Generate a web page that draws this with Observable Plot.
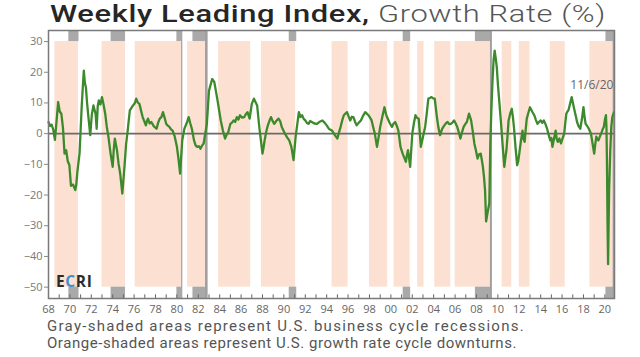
<!DOCTYPE html>
<html>
<head>
<meta charset="utf-8">
<script src="https://cdn.jsdelivr.net/npm/d3@7"></script>
<script src="https://cdn.jsdelivr.net/npm/@observablehq/plot@0.6"></script>
<style>
  html, body { margin: 0; padding: 0; background: #fff; width: 640px; height: 357px; overflow: hidden; position: relative; }
  #title { position: absolute; left: 50px; top: 0px; font-family: Roboto, sans-serif; font-size: 24px; line-height: 28px; white-space: nowrap; color: #222; letter-spacing: 0.5px; transform-origin: 0 0; }
  #title .a { font-weight: 500; color: #262626; }
  #title .b { font-weight: 300; color: #555; }
  #spacer { height: 29px; }
  #caption { position: absolute; left: 47px; top: 318px; font-family: Roboto, sans-serif; font-size: 15px; line-height: 17px; color: #555; white-space: nowrap; }
  #caption div { display: inline-block; }
  svg { display: block; }
</style>
</head>
<body>
<div id="title"><span class="a">Weekly Leading Index,</span> <span class="b">Growth Rate (%)</span></div>
<div id="spacer"></div>
<div id="chart"></div>
<div id="caption"><div id="c1">Gray-shaded areas represent U.S. business cycle recessions.</div><br><div id="c2">Orange-shaded areas represent U.S. growth rate cycle downturns.</div></div>
<script>
// Weekly Leading Index growth rate (%)
const wliDates = [
  1968.0,1968.15,1968.3,1968.45,1968.6,1968.75,1968.9,1969.05,1969.2,1969.35,1969.5,1969.65,1969.8,1969.95,1970.1,1970.3,1970.5,1970.6,1970.7,1970.9,
  1971.1,1971.2,1971.3,1971.4,1971.5,1971.6,1971.7,1971.9,
  1972.05,1972.2,1972.3,1972.4,1972.5,1972.6,1972.7,1972.85,1973.0,1973.15,1973.3,1973.45,1973.6,1973.8,1974.0,1974.1,1974.2,1974.4,1974.55,1974.7,1974.9,1975.1,1975.25,1975.4,1975.6,1975.9,
  1976.05,1976.2,1976.35,1976.5,1976.65,1976.8,1977.1,1977.2,1977.3,1977.45,1977.6,1977.85,1978.1,1978.25,1978.4,1978.55,1978.7,1978.85,1979.0,1979.15,1979.3,1979.45,1979.6,1979.8,1980.0,1980.15,1980.3,1980.5,1980.7,
  1980.9,1981.1,1981.25,1981.4,1981.6,1981.75,1981.9,1982.05,1982.2,1982.35,1982.5,1982.8,1983.0,1983.3,1983.5,1983.8,1984.1,1984.3,1984.5,1984.65,1984.8,1985.0,1985.15,1985.3,
  1985.45,1985.6,1985.75,1985.9,1986.1,1986.3,1986.45,1986.6,1986.8,1987.0,1987.2,1987.5,1987.7,1988.0,1988.1,1988.2,1988.35,1988.5,1988.65,1988.8,1988.95,1989.1,1989.3,1989.5,1989.65,1989.8,1990.1,
  1990.3,1990.5,1990.7,1990.9,1991.1,1991.4,1991.55,1991.7,1991.85,1992.0,1992.15,1992.3,1992.45,1992.6,1992.85,1993.1,1993.35,1993.6,1993.8,1994.0,1994.2,1994.35,1994.5,1994.75,1995.0,1995.15,1995.3,1995.45,1995.6,
  1995.75,1995.9,1996.05,1996.2,1996.35,1996.5,1996.65,1996.8,1997.0,1997.2,1997.4,1997.6,1997.75,1997.9,1998.05,1998.2,1998.35,1998.5,1998.7,1998.85,1999.0,1999.2,1999.4,1999.55,1999.7,1999.9,2000.1,2000.25,2000.4,2000.55,2000.7,2000.9,
  2001.1,2001.25,2001.4,2001.5,2001.6,2001.7,2001.8,2002.0,2002.15,2002.3,2002.45,2002.6,2002.8,2003.0,2003.2,2003.35,2003.5,2003.65,2003.8,2003.95,2004.1,2004.3,2004.45,2004.6,2004.8,2005.0,2005.15,2005.3,
  2005.45,2005.6,2005.75,2005.9,2006.05,2006.2,2006.35,2006.5,2006.65,2006.8,2006.95,2007.1,2007.3,2007.5,2007.65,2007.8,2007.95,2008.1,2008.25,2008.4,2008.5,2008.6,2008.7,2008.8,2008.9,2009.05,2009.2,2009.3,2009.4,2009.5,
  2009.6,2009.7,2009.8,2009.9,2010.0,2010.1,2010.2,2010.3,2010.45,2010.6,2010.7,2010.8,2010.9,2011.0,2011.15,2011.3,2011.4,2011.5,2011.65,2011.8,2011.9,2012.0,2012.15,2012.3,2012.4,2012.5,2012.6,2012.7,2012.85,2013.0,2013.2,2013.4,2013.55,2013.7,
  2013.85,2014.0,2014.15,2014.3,2014.45,2014.6,2014.75,2014.9,2015.0,2015.1,2015.25,2015.4,2015.5,2015.6,2015.75,2015.9,2016.05,2016.2,2016.3,2016.4,2016.5,2016.6,2016.75,2016.9,2017.05,2017.2,2017.3,2017.4,2017.55,2017.7,2017.85,2018.0,2018.1,2018.2,
  2018.35,2018.5,2018.6,2018.7,2018.85,2019.0,2019.1,2019.2,2019.3,2019.4,2019.55,2019.7,2019.8,2019.9,2020.0,2020.1,2020.15,2020.2,2020.25,2020.3,2020.35,2020.4,2020.5,2020.6,2020.7,2020.85
];
const wliValues = [
  3.8,2.5,2.9,1.2,-2,4,10.3,7.2,6.5,2,-6.5,-5.4,-9,-10.2,-17,-16.6,-18.4,-16.5,-12.4,-6.5,
  8.6,14.8,20.5,16.5,15,10.2,6.5,-0.5,
  6.2,9.2,7.8,6.5,1.6,8.9,10.8,9.5,11.9,9.4,6.5,2.2,-1,-6.5,-10.8,-5.2,-1.6,-5.4,-9.8,-13,-19.5,-10.8,-3.5,1,7.6,9.2,
  9.8,11.4,10.1,9.7,7.5,5.4,2.7,4.1,4.9,3.3,3.8,2.4,1.6,3.6,4.9,5.4,7,5.2,3.2,2.6,2.2,1.4,1,-1,-4.3,-8.2,-13,-2.2,1.6,
  3.3,5.4,3.4,1.6,-2.2,-3.8,-4.3,-4.1,-4.9,-3.9,-3.2,3.2,14,17.8,16.8,10.8,4.3,1,-1.6,-0.4,0.5,3.2,3.6,4.3,
  3.8,5.4,4.6,6,5.2,5.4,6.4,7,4.9,9.7,11.4,9.2,2.2,-6.5,-4.5,-2.2,0.6,2.7,4.2,5.4,4.1,3.2,4.2,4.9,4.1,2.2,0,
  -1.2,-2.2,-4.3,-8.6,-1,7,5.4,6,4.8,4.3,3.5,3.2,4.1,3.8,3.3,3.2,3.9,4.3,3.6,2.7,1.6,1.3,1,-0.4,-1.6,0.4,2.2,4.3,6,
  6.5,7,5.6,4.3,5.5,5.4,3.9,2.7,3.6,4.3,5.8,7,6.5,6,5.2,4.3,2.1,0,-4.3,-1.2,2.2,5.5,8.6,6.3,4.9,3.4,2.2,3.3,3.8,2.6,1,-4.3,
  -6.5,-7.8,-9.2,-7,-5.4,-8,-10.8,0,3.4,6,5.1,4.9,-4.3,-1,2.2,6.5,11.4,11.6,11.9,11.5,11.4,5.4,1.8,-0.5,1.6,2.7,3.4,3.8,
  3.1,3.2,3.6,4.3,3.4,2.2,0.4,-1.6,0.5,2.2,3.1,3.8,6.5,4.3,0.8,-3.2,-5.5,-8.1,-6.7,-6.5,-8.6,-10.8,-14,-18.4,-28.6,-25.5,-22.7,-2.2,8.5,17.3,
  24,27,24.5,21.6,16.2,11.9,7.5,3.2,-4,-10.8,-8,-5.4,-0.8,4.3,6.5,8.1,5.5,2.2,-4.5,-10.3,-9,-6.5,-2.5,1,-1.8,-2.7,1.4,4.9,6.8,8.6,7.2,6,4.5,3.2,
  3.8,4.3,3.5,4.3,3.1,1.6,-0.4,-2.2,-1.4,-4.3,-1.6,1,-1.8,-2.7,-1.6,-3.2,-1.5,0,3.5,6.5,7.2,7.6,9.8,11.9,9.4,7,5.5,3.8,2.4,1.6,4.6,8.6,5.5,3.2,
  2.5,1.6,0.8,0,-3.2,-6.5,-3.5,-1,-1.8,-2.2,-0.8,0.5,1.5,2.2,4.5,6,2,-10.8,-30,-42.5,-30,-18,-6,2.2,5.5,7
];

// Growth rate cycle downturns (orange)
const downturnStart = [1968.6,1973.0,1976.1,1981.0,1983.9,1987.9,1994.5,1998.0,2000.3,2002.5,2004.1,2006.0,2010.4,2012.0,2014.9,2018.6];
const downturnEnd   = [1970.8,1975.2,1980.45,1982.75,1986.9,1991.1,1996.0,1999.7,2001.8,2003.1,2005.6,2009.3,2011.3,2013.0,2016.3,2020.8];

// Business cycle recessions (gray)
const recessionStart = [1969.9,1973.85,1980.0,1981.5,1990.5,2001.15,2007.9,2020.1];
const recessionEnd   = [1970.85,1975.2,1980.45,1982.75,1991.2,2001.85,2009.4,2020.85];

// Recession boundary lines drawn across the panel
const boundaryLines = [1980.45,1982.75,2009.35,2020.82];
const boundaryWidths = [1.2,2.6,2,2];

const yTicks = [30,20,10,0,-10,-20,-30,-40,-50];
const xLabelYears = d3.range(1968, 2021, 2);
const xTickYears = d3.range(1969, 2021, 1);
const lastDateLabel = "11/6/20";

const yMin = -53.7, yMax = 33.6;
const wli = wliDates.map((d, i) => ({date: d, value: wliValues[i]}));
const downturns = downturnStart.map((s, i) => ({x1: s, x2: downturnEnd[i]}));
const recessions = recessionStart.map((s, i) => ({x1: s, x2: recessionEnd[i]}));
const lines = boundaryLines.map((x, i) => ({x, w: boundaryWidths[i]}));

const plot = Plot.plot({
  width: 640,
  height: 289,
  marginTop: 1,
  marginLeft: 48,
  marginRight: 26,
  marginBottom: 20,
  style: {fontFamily: "Open Sans, sans-serif", fontSize: "11px", color: "#666", background: "#fff"},
  x: {domain: [1968, 2020.9]},
  y: {domain: [yMin, yMax]},
  marks: [
    Plot.rect(downturns, {x1: "x1", x2: "x2", y1: -50, y2: 30, fill: "#fce1d2"}),
    Plot.rect(recessions, {x1: "x1", x2: "x2", y1: 30, y2: yMax, fill: "#a9a9a9"}),
    Plot.rect(recessions, {x1: "x1", x2: "x2", y1: yMin, y2: -50, fill: "#a9a9a9"}),
    Plot.ruleX(lines, {x: "x", strokeWidth: "w", stroke: "#a0a0a0"}),
    Plot.ruleY([0], {stroke: "#6a6a6a", strokeWidth: 1.6}),
    Plot.line(wli, {x: "date", y: "value", stroke: "#3d8a2c", strokeWidth: 2.3, curve: "linear"}),
    Plot.ruleX(xTickYears, {y1: yMin, y2: yMin + 1.2, stroke: "#666", strokeWidth: 1}),
    Plot.frame({stroke: "#7a7a7a", strokeWidth: 1.5}),
    Plot.axisY({ticks: yTicks, tickSize: 4, tickPadding: 2, label: null, fill: "#777", stroke: "#888", fontSize: 11}),
    Plot.axisX({ticks: xLabelYears, tickSize: 0, tickPadding: 7, label: null, fill: "#666", fontSize: 11,
      tickFormat: d => String(d % 100).padStart(2, "0")}),
    Plot.text([lastDateLabel], {x: 2020.8, y: 15.7, text: d => d, textAnchor: "end", fill: "#666", fontSize: 12})
  ]
});
document.getElementById("chart").appendChild(plot);

// ECRI logo
const sx = plot.scale("x"), sy = plot.scale("y");
const svg = d3.select(plot);
const logo = svg.append("text")
  .attr("x", sx.apply(1968.75)).attr("y", sy.apply(-50) + 0.5)
  .attr("text-anchor", "start")
  .attr("font-family", "Open Sans, sans-serif").attr("font-weight", 700).attr("font-size", 15.5)
  .attr("letter-spacing", 0.6);
[["E", "#2b2b2b"], ["C", "#3f8fd0"], ["R", "#2b2b2b"], ["I", "#2b2b2b"]].forEach(([t, c]) => logo.append("tspan").attr("fill", c).text(t));

// stretch text to the reference widths
function fitSpacing(el, target) {
  const w = el.getBoundingClientRect().width;
  const n = el.textContent.length;
  el.style.letterSpacing = ((target - w) / n) + "px";
}
function fitScale(el, target) {
  const w = el.getBoundingClientRect().width;
  el.style.transform = "scaleX(" + (target / w) + ")";
}
fitScale(document.getElementById("title"), 556);
fitSpacing(document.getElementById("c1"), 478);
fitSpacing(document.getElementById("c2"), 470);
</script>
</body>
</html>
